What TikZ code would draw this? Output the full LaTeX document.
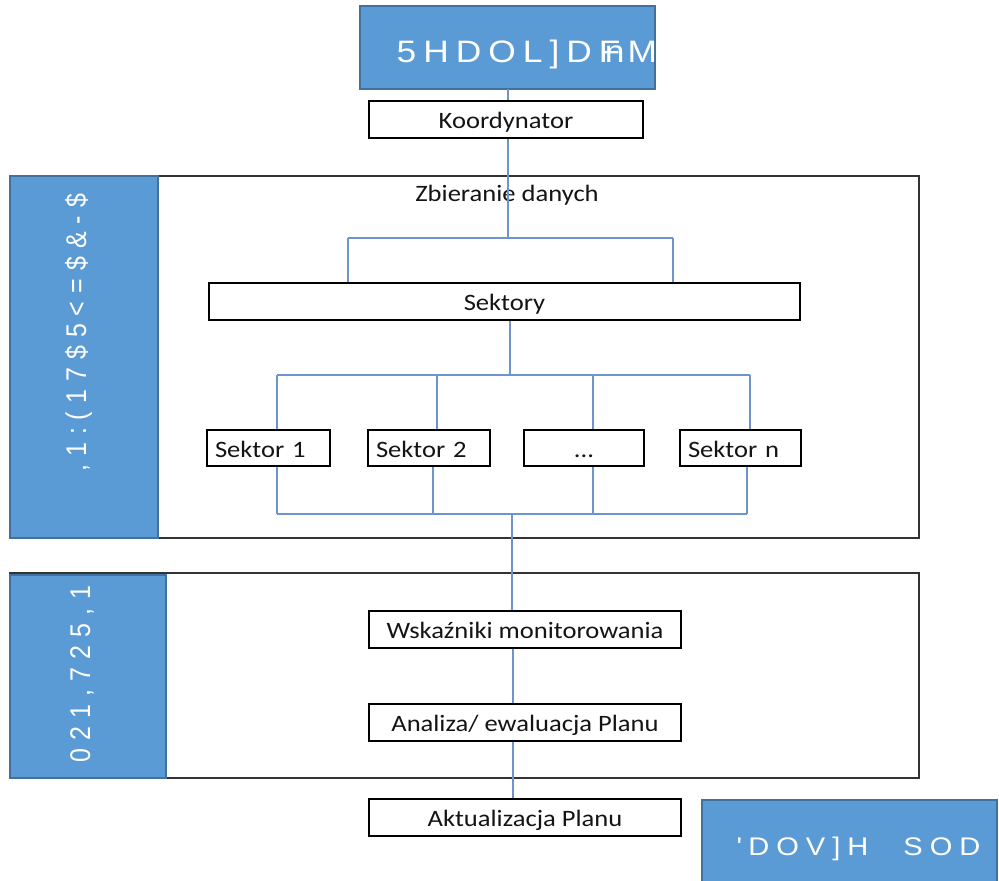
\documentclass[tikz,border=0pt]{standalone}
\usepackage{fontspec}
\usepackage{graphicx}
\newfontfamily\carl[FakeStretch=1.13]{Carlito}
\newfontfamily\arialw[FakeStretch=1.14]{Liberation Sans}
\newfontfamily\arialn{Liberation Sans}
\definecolor{bluefill}{RGB}{91,155,213}
\definecolor{blueborder}{RGB}{65,113,156}
\definecolor{linkblue}{RGB}{110,148,206}
\definecolor{boxtext}{RGB}{20,20,20}
\newcommand{\gapA}{\hspace{7.0pt}}
\newcommand{\gapB}{\hspace{8pt}}
\newcommand{\gapM}{\hspace{8.2pt}}
\newcommand{\gapC}{\hspace{7.0pt}}
\begin{document}
\begin{tikzpicture}[x=1pt,y=-1pt,
  blubox/.style={draw=blueborder, line width=2pt, fill=bluefill, inner sep=0pt},
  frame/.style={draw=black!80, line width=1.2pt},
  wbox/.style={draw=black, line width=2.6pt, fill=white, inner sep=0pt,
    text=boxtext, font=\carl\fontsize{23.5}{23.5}\selectfont, minimum height=37pt,
    text height=18pt, text depth=0pt},
  sbox/.style={wbox, minimum height=36pt, align=left, inner xsep=8pt},
  link/.style={draw=linkblue, line width=1.7pt},
  lbl/.style={text=white, inner sep=0pt}]
\useasboundingbox (0,0) rectangle (999,881);
\fill[white] (0,0) rectangle (999,881);

% frames
\draw[frame] (10,176) rectangle (919,538);
\draw[frame] (10,573) rectangle (919,778);

% blue boxes
\node[blubox, minimum width=295pt, minimum height=83pt] (real) at (507.5,47.5) {};
\node[blubox, minimum width=148pt, minimum height=362pt] (inw) at (84,357) {};
\node[blubox, minimum width=156pt, minimum height=203pt] (mon) at (88,676.5) {};
\node[blubox, minimum width=295pt, minimum height=100pt] (dal) at (849.5,850) {};

% blue box labels
\node[lbl, anchor=base west, font=\arialw\fontsize{31}{31}\selectfont] (realtxt) at (396.5,62)
  {5\gapA H\gapA D\gapA O\gapA L\gapA ]\gapA D\gapA F\kern-15.5pt n\kern3pt M};
\node[lbl, rotate=90, anchor=base west, font=\arialn\fontsize{25}{25}\selectfont] (inwtxt) at (86,472)
  {\scalebox{1}[1.14]{,\gapB 1\gapB :\gapB (\gapB 1\gapB 7\gapB \$\gapB 5\gapB <\gapB =\gapB \$\gapB \&\gapB -\gapB \$}};
\node[lbl, rotate=90, anchor=base west, font=\arialn\fontsize{25}{25}\selectfont] (montxt) at (90,763)
  {\scalebox{1}[1.14]{0\gapM 2\gapM 1\gapM ,\gapM 7\gapM 2\gapM 5\gapM ,\gapM 1}};
\node[lbl, anchor=base west, font=\arialw\fontsize{25.5}{25.5}\selectfont] (daltxt) at (736.3,855)
  {\textquotesingle\gapC D\gapC O\gapC V\gapC ]\gapC H\hspace{35pt}S\gapC O\gapC D};

% white boxes
\node[wbox, minimum width=274pt] (koord) at (506,119.5) {Koordynator};
\node[text=boxtext, inner sep=0pt, font=\carl\fontsize{23.5}{23.5}\selectfont] (zbier) at (507,195) {Zbieranie danych};
\node[wbox, minimum width=591pt] (sekt) at (504.5,301.5) {Sektory};
\node[sbox, text width=107pt] (s1) at (268.5,448) {Sektor 1};
\node[sbox, text width=106pt] (s2) at (429,448) {Sektor 2};
\node[sbox, text width=104pt, align=center] (sd) at (584,448) {...};
\node[sbox, text width=105pt] (sn) at (740.5,448) {Sektor n};
\node[wbox, minimum width=312pt] (wsk) at (525,629.5) {Wskaźniki monitorowania};
\node[wbox, minimum width=312pt] (ana) at (525,722.5) {Analiza/ ewaluacja Planu};
\node[wbox, minimum width=312pt] (akt) at (525,817.5) {Aktualizacja Planu};

% connectors
\coordinate (t0) at (508,89);
\coordinate (j1) at (508,238);
\coordinate (j1l) at (348,238);
\coordinate (j1r) at (673,238);
\draw[link] (t0) -- (t0 |- koord.north);
\draw[link] (j1 |- koord.south) -- (j1);
\draw[link] (j1l) -- (j1r);
\draw[link] (j1l) -- (j1l |- sekt.north);
\draw[link] (j1r) -- (j1r |- sekt.north);

\coordinate (j2) at (510,375);
\coordinate (a1) at (277,375);
\coordinate (a2) at (437,375);
\coordinate (a3) at (593,375);
\coordinate (a4) at (750,375);
\draw[link] (j2 |- sekt.south) -- (j2);
\draw[link] (a1) -- (a4);
\draw[link] (a1) -- (a1 |- s1.north);
\draw[link] (a2) -- (a2 |- s2.north);
\draw[link] (a3) -- (a3 |- sd.north);
\draw[link] (a4) -- (a4 |- sn.north);

\coordinate (b1) at (277,514);
\coordinate (b2) at (433,514);
\coordinate (b3) at (593,514);
\coordinate (b4) at (747,514);
\coordinate (j3) at (512,514);
\draw[link] (b1 |- s1.south) -- (b1);
\draw[link] (b2 |- s2.south) -- (b2);
\draw[link] (b3 |- sd.south) -- (b3);
\draw[link] (b4 |- sn.south) -- (b4);
\draw[link] (b1) -- (b4);
\draw[link] (j3) -- (j3 |- wsk.north);

\coordinate (c1) at (513,650);
\draw[link] (c1 |- wsk.south) -- (c1 |- ana.north);
\draw[link] (c1 |- ana.south) -- (c1 |- akt.north);
\end{tikzpicture}
\end{document}
